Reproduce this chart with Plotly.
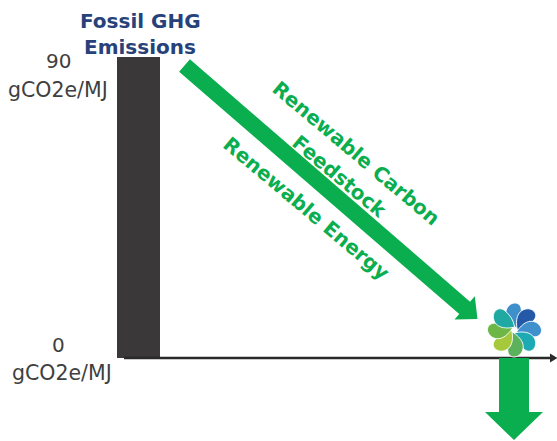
import numpy as np
import plotly.graph_objects as go

# Life-cycle emissions, gCO2e/MJ
bar_label = ["Fossil GHG Emissions"]
bar_position = [138.5]
bar_value = [90]
tick_values = [90, 0]
tick_unit = "gCO2e/MJ"

WIDTH, HEIGHT = 557, 441
ZERO_ROW = 358.0       # row of the baseline
PER_UNIT = 301.0 / 90  # rows per gCO2e/MJ


def yv(row):
    """Row on the canvas to axis value."""
    return (ZERO_ROW - row) / PER_UNIT


def arrow(start, tip, shaft, head, head_len):
    s, t = np.array(start, float), np.array(tip, float)
    d = (t - s) / np.linalg.norm(t - s)
    n = np.array([-d[1], d[0]])
    b = t - d * head_len
    pts = [s + n * shaft / 2, b + n * shaft / 2, b + n * head / 2, t,
           b - n * head / 2, b - n * shaft / 2, s - n * shaft / 2, s + n * shaft / 2]
    return [p[0] for p in pts], [yv(p[1]) for p in pts]


# Blade outline in (radial, tangential) terms, scaled from the hub
BLADE = [(2, 2), (8, -8), (15, -11), (21, -8.5), (29, -5), (29, 5), (21, 6), (14, 7), (8, 6), (2, 2)]


def petal(cx, cy, angle):
    """A curved pinwheel blade whose root sits at the hub."""
    a = np.radians(angle)
    u = np.array([np.cos(a), np.sin(a)])
    v = np.array([-u[1], u[0]])
    c = np.array([cx, cy])
    p = [c + u * r + v * t for r, t in BLADE]
    f = lambda q: f"{q[0]:.2f},{yv(q[1]):.3f}"
    return (f"M{f(p[0])} C{f(p[1])} {f(p[2])} {f(p[3])} "
            f"C{f(p[4])} {f(p[5])} {f(p[6])} C{f(p[7])} {f(p[8])} {f(p[9])} Z")


fig = go.Figure()

fig.add_bar(x=bar_position, y=bar_value, width=43, marker=dict(color="#3a3839", line_width=0),
            hoverinfo="skip", showlegend=False)

# Horizontal axis with its arrowhead
fig.add_scatter(x=[124, 552], y=[0, 0], mode="lines", line=dict(color="#2a2a2a", width=2.6),
                hoverinfo="skip", showlegend=False)
fig.add_scatter(x=[550, 557.5, 550, 550], y=[yv(353.5), yv(358), yv(362.5), yv(353.5)], mode="lines",
                fill="toself", fillcolor="#2a2a2a", line=dict(width=0), hoverinfo="skip", showlegend=False)

# Reduction and below-zero arrows
GREEN = "#0bae4f"
for spec in [((184.5, 65.5), (477.5, 319), 16.5, 31, 17),
             ((514, 358), (514, 440), 30, 58, 28)]:
    xs, ys = arrow(*spec)
    fig.add_scatter(x=xs, y=ys, mode="lines", fill="toself", fillcolor=GREEN, line=dict(width=0),
                    hoverinfo="skip", showlegend=False)

# Pinwheel emblem
petal_colors = ["#3f8fcb", "#2359a6", "#3f90cc", "#1eaab2", "#5bb15c", "#a5c93a", "#6db648", "#1fa9a2"]
petal_angles = [-88, -43, 2, 47, 92, 137, 182, 227]
shapes = [dict(type="path", xref="x", yref="y", path=petal(514.5, 330, a), fillcolor=c,
               line=dict(color="#ffffff", width=0.9), layer="above")
          for a, c in zip(petal_angles, petal_colors)]

NAVY = "#27427a"
GREY = "#3f3f3f"
FONT = "DejaVu Sans"


def label(x, row, text, size, color, angle=0, bold=False):
    fig.add_annotation(x=x, y=yv(row), text=f"<b>{text}</b>" if bold else text, showarrow=False,
                       textangle=angle, xanchor="center", yanchor="middle",
                       font=dict(family=FONT, size=size, color=color))


words = bar_label[0].rsplit(" ", 1)
label(140, 21, words[0], 20, NAVY, bold=True)
label(140, 47, words[1], 20, NAVY, bold=True)
label(58, 61, str(tick_values[0]), 20, GREY)
label(58, 90, tick_unit, 20.5, GREY)
label(58, 345, str(tick_values[1]), 20, GREY)
label(62, 373, tick_unit, 20.5, GREY)
label(356, 153, "Renewable Carbon", 20, GREEN, angle=40, bold=True)
label(339, 176, "Feedstock", 20, GREEN, angle=40, bold=True)
label(306, 208, "Renewable Energy", 20, GREEN, angle=40, bold=True)

fig.update_layout(
    width=WIDTH, height=HEIGHT, margin=dict(l=0, r=0, t=0, b=0, pad=0),
    paper_bgcolor="#ffffff", plot_bgcolor="#ffffff", shapes=shapes, showlegend=False,
    xaxis=dict(range=[0, WIDTH], visible=False, fixedrange=True),
    yaxis=dict(range=[yv(HEIGHT), yv(0)], visible=False, fixedrange=True),
)
fig.write_html("out.html", config=dict(displayModeBar=False))
